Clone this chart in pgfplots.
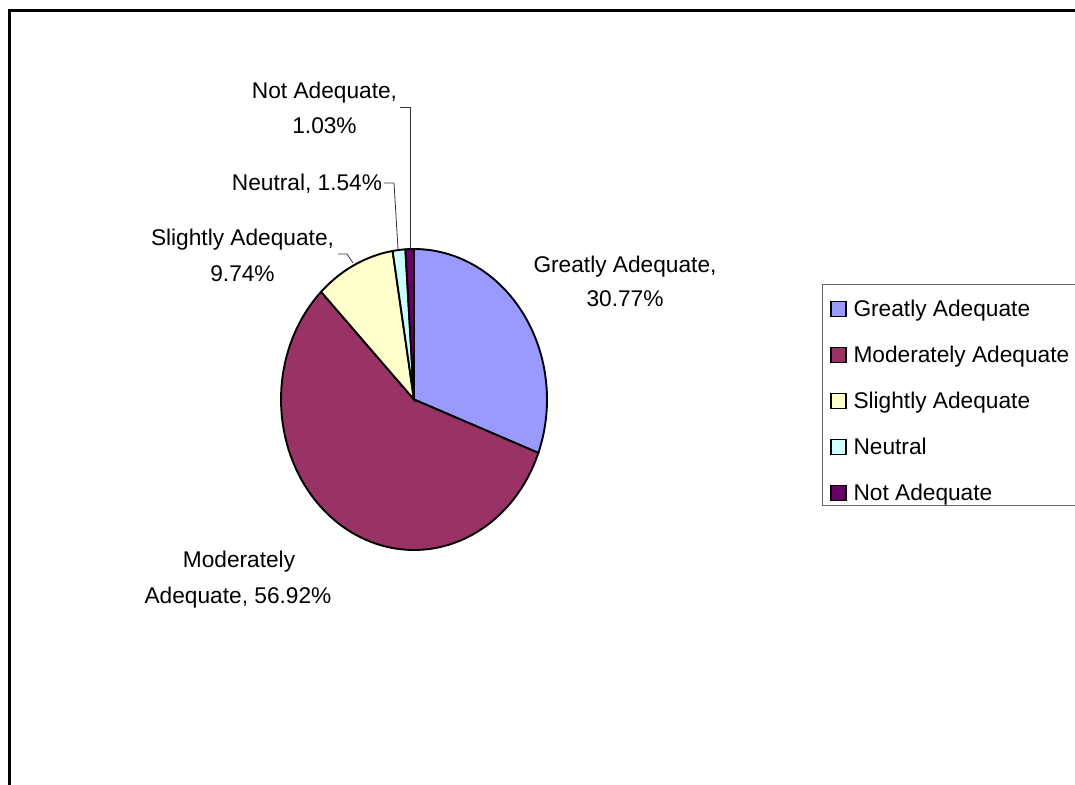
\documentclass[border=0pt]{standalone}
\usepackage{fontspec}
\setmainfont{Liberation Sans}
\usepackage{pgfplots}
\pgfplotsset{compat=1.18}
\definecolor{cG}{HTML}{9999FF}
\definecolor{cM}{HTML}{993366}
\definecolor{cS}{HTML}{FFFFCC}
\definecolor{cN}{HTML}{CCFFFF}
\definecolor{cX}{HTML}{660066}
\newcommand\lab{\fontsize{22.7bp}{27bp}\selectfont}
\begin{document}
\begin{tikzpicture}
% shares in percent
\pgfmathsetmacro\pG{30.77}
\pgfmathsetmacro\pM{56.92}
\pgfmathsetmacro\pS{9.74}
\pgfmathsetmacro\pN{1.54}
\pgfmathsetmacro\pX{1.03}
\pgfmathsetmacro\aA{90}
\pgfmathsetmacro\aB{\aA-3.6*\pG}
\pgfmathsetmacro\aC{\aB-3.6*\pM}
\pgfmathsetmacro\aD{\aC-3.6*\pS}
\pgfmathsetmacro\aE{\aD-3.6*\pN}
\pgfmathsetmacro\aF{\aE-3.6*\pX}
\begin{axis}[hide axis, scale only axis, width=1075bp, height=784bp,
  xmin=0, xmax=1075, ymin=0, ymax=784, y dir=reverse, clip=false,
  legend image code/.code={\draw[#1,draw=black,line width=1.3bp] (0bp,0.2bp) rectangle (15bp,15.2bp);},
  legend style={at={(axis cs:830,300.7)}, anchor=north west, draw=none, fill=none,
    inner sep=0pt, row sep=25bp, column sep=7bp, font=\lab,
    cells={anchor=base west},
    nodes={inner sep=0pt, text height=16bp, text depth=5bp}},
  pie/.style={draw=black, line width=1.9bp, samples=80, variable=\t}]
\addplot[pie, fill=cG, domain=\aB:\aA] ({414+133*cos(\t)},{399.5-150.5*sin(\t)}) -- (414,399.5) -- cycle;
\addplot[pie, fill=cM, domain=\aC:\aB] ({414+133*cos(\t)},{399.5-150.5*sin(\t)}) -- (414,399.5) -- cycle;
\addplot[pie, fill=cS, domain=\aD:\aC] ({414+133*cos(\t)},{399.5-150.5*sin(\t)}) -- (414,399.5) -- cycle;
\addplot[pie, fill=cN, domain=\aE:\aD] ({414+133*cos(\t)},{399.5-150.5*sin(\t)}) -- (414,399.5) -- cycle;
\addplot[pie, fill=cX, domain=\aF:\aE] ({414+133*cos(\t)},{399.5-150.5*sin(\t)}) -- (414,399.5) -- cycle;
\legend{Greatly Adequate, Moderately Adequate, Slightly Adequate, Neutral, Not Adequate}
% legend frame
\draw[draw=black!60, line width=1bp] (1100,505) -- (822,505) -- (822,284) -- (1100,284);
% data labels
\node[anchor=base, font=\lab, inner sep=0pt] at (625,272) {Greatly Adequate,};
\node[anchor=base, font=\lab, inner sep=0pt] at (625,306) {30.77\%};
\node[anchor=base, font=\lab, inner sep=0pt] at (239,567) {Moderately};
\node[anchor=base, font=\lab, inner sep=0pt] at (238,603) {Adequate, 56.92\%};
\node[anchor=base, font=\lab, inner sep=0pt] at (242.5,245) {Slightly Adequate,};
\node[anchor=base, font=\lab, inner sep=0pt] at (242.5,281) {9.74\%};
\node[anchor=base, font=\lab, inner sep=0pt] at (324.5,98) {Not Adequate,};
\node[anchor=base, font=\lab, inner sep=0pt] at (324.5,133) {1.03\%};
\node[anchor=base, font=\lab, inner sep=0pt] at (307,190) {Neutral, 1.54\%};
% leader lines
\draw[line width=0.8bp, black!80] (400,107) -- (410,107) -- (410,249);
\draw[line width=0.8bp, black!80] (384,183) -- (394,183) -- (398,249);
\draw[line width=0.8bp, black!80] (338,254) -- (347,254) -- (353,263);
% outer frame
\draw[line width=3bp] (9.5,900) -- (9.5,10.3) -- (1200,10.3);
\end{axis}
\pgfresetboundingbox
\path[use as bounding box] (current axis.south west) rectangle (current axis.north east);
\end{tikzpicture}
\end{document}
